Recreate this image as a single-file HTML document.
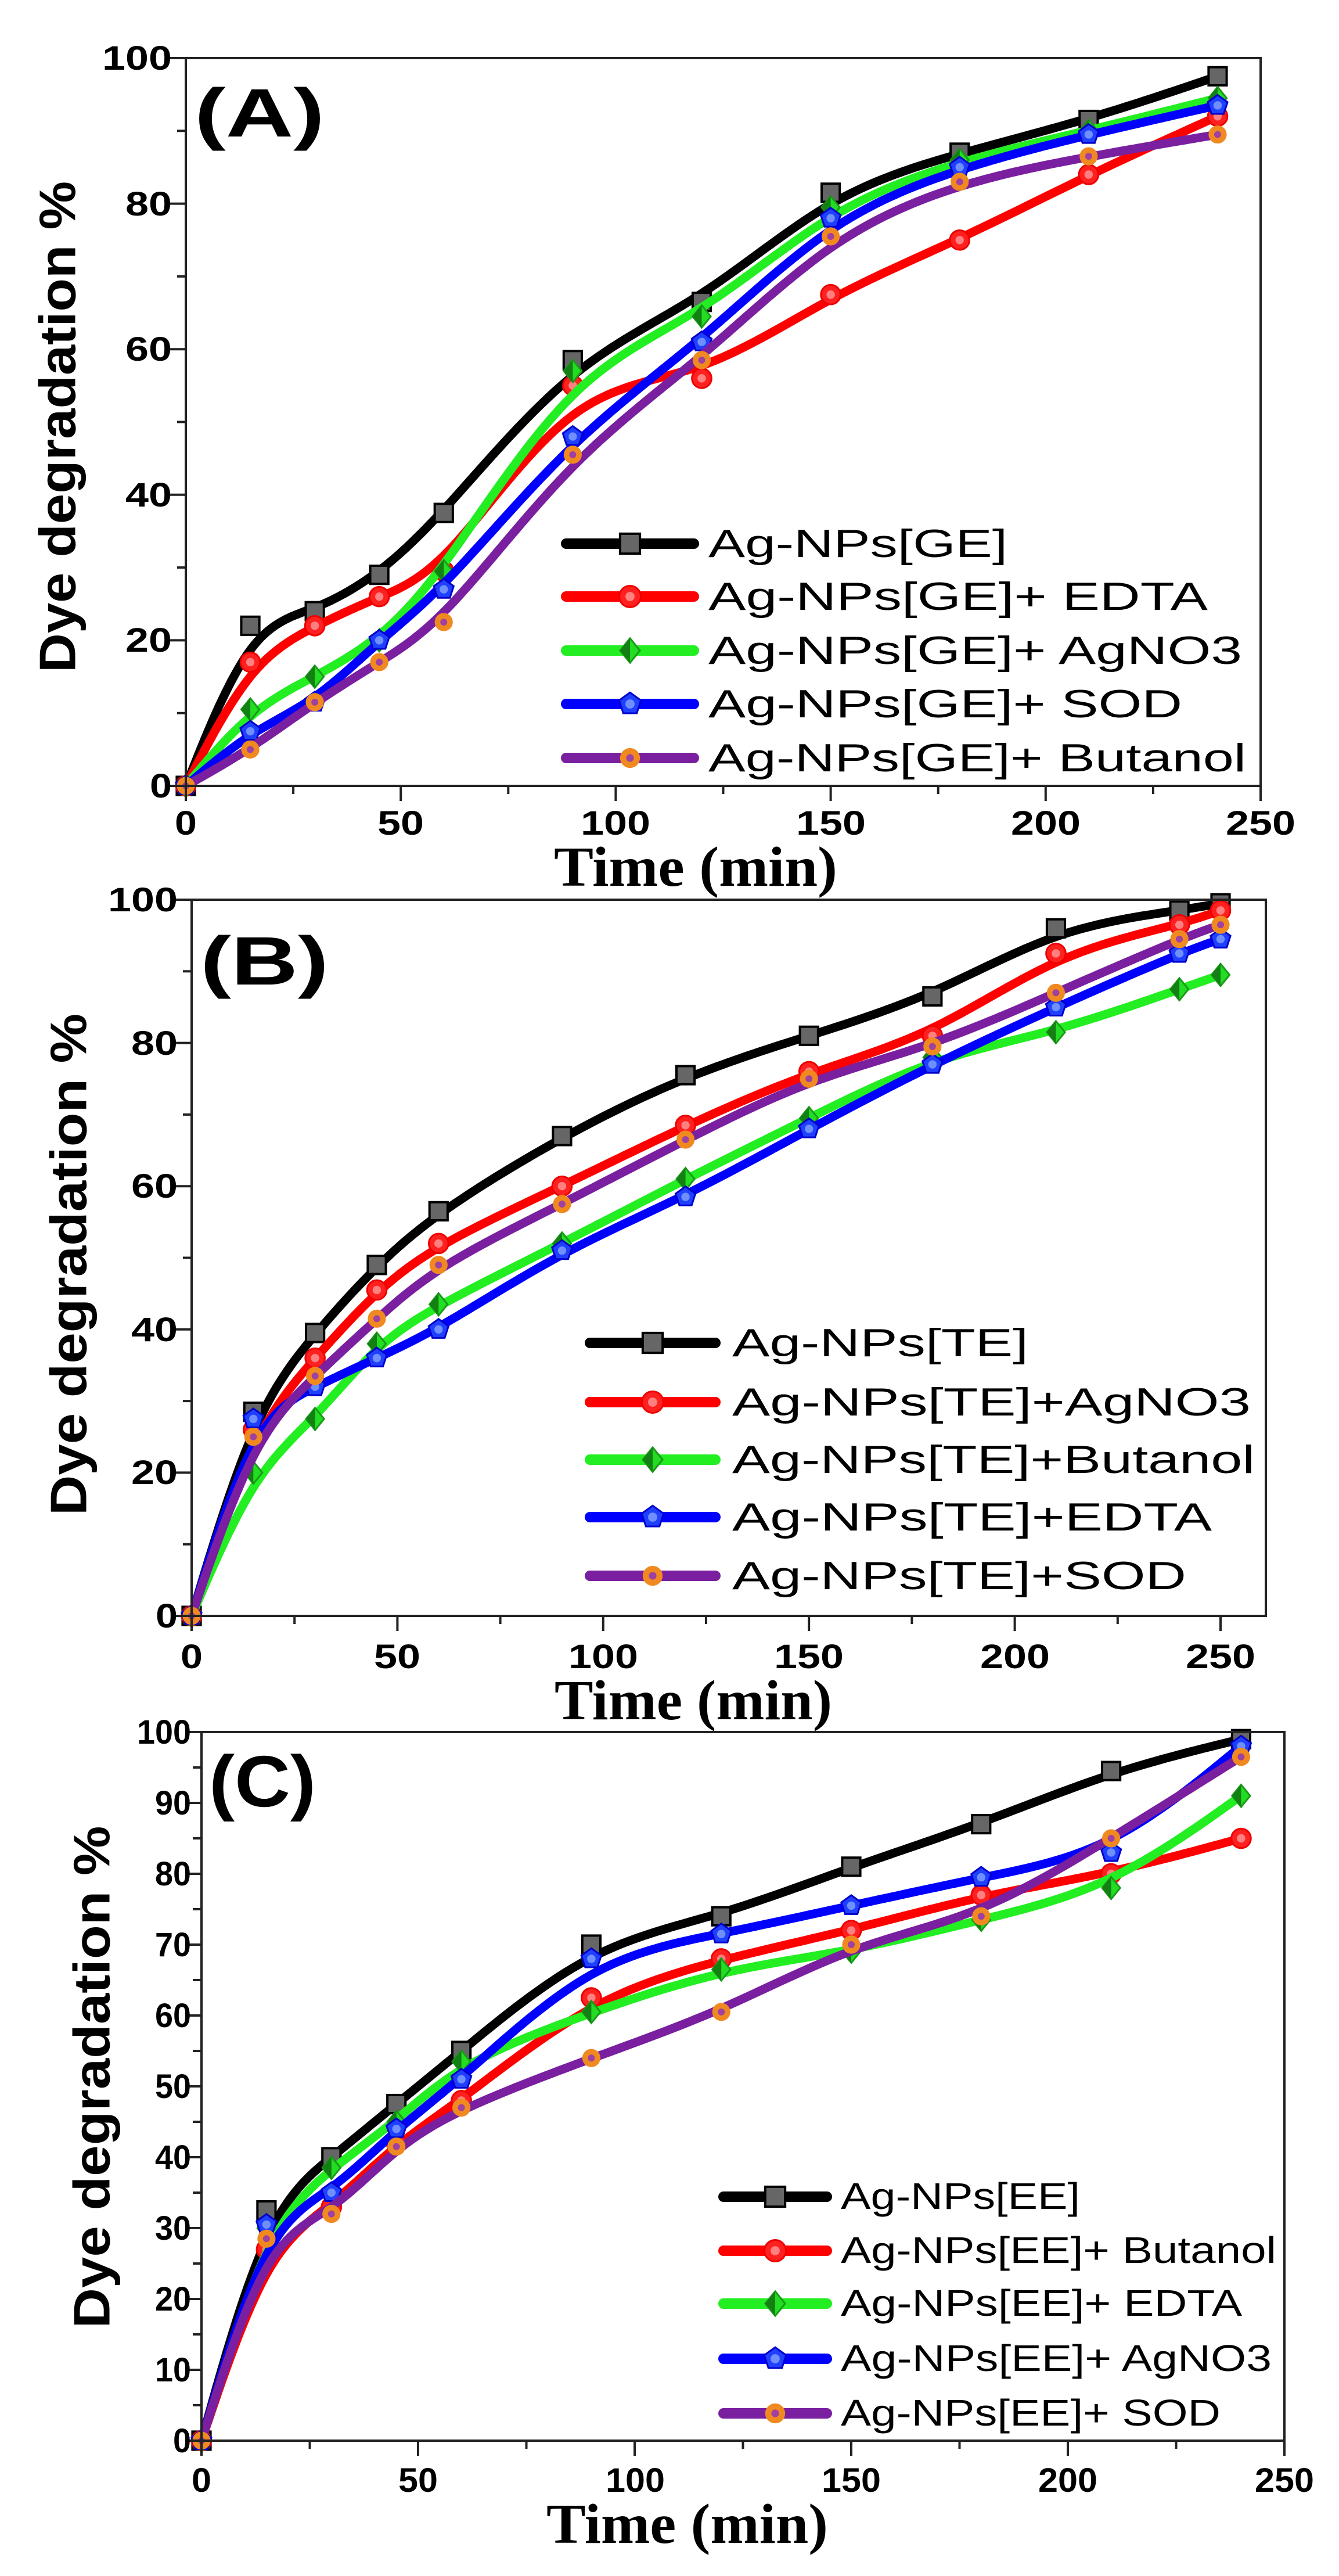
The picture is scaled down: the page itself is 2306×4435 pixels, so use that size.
<!DOCTYPE html>
<html><head><meta charset="utf-8"><style>
html,body{margin:0;padding:0;background:#fff}
svg{display:block}
.t{font-family:"Liberation Sans",Arial,sans-serif;font-weight:bold;fill:#000}
.l{font-family:"Liberation Sans",Arial,sans-serif;fill:#000}
.s{font-family:"Liberation Serif","Times New Roman",serif;font-weight:bold;fill:#000}
</style></head><body>
<svg id="svg" width="2306" height="4435" viewBox="0 0 2306 4435" xmlns="http://www.w3.org/2000/svg">
<rect width="2306" height="4435" fill="#fff"/>
<g id="plots"></g>
<!-- Panel A text -->
<text class="t" x="335" y="235" font-size="118" textLength="224" lengthAdjust="spacingAndGlyphs">(A)</text>
<g class="t" font-size="58" text-anchor="middle">
<text x="320" y="1437" textLength="38" lengthAdjust="spacingAndGlyphs">0</text>
<text x="690" y="1437" textLength="80" lengthAdjust="spacingAndGlyphs">50</text>
<text x="1060" y="1437" textLength="120" lengthAdjust="spacingAndGlyphs">100</text>
<text x="1431" y="1437" textLength="120" lengthAdjust="spacingAndGlyphs">150</text>
<text x="1801" y="1437" textLength="120" lengthAdjust="spacingAndGlyphs">200</text>
<text x="2171" y="1437" textLength="120" lengthAdjust="spacingAndGlyphs">250</text>
</g>
<g class="t" font-size="58" text-anchor="end">
<text x="296" y="1373" textLength="38" lengthAdjust="spacingAndGlyphs">0</text>
<text x="296" y="1122" textLength="80" lengthAdjust="spacingAndGlyphs">20</text>
<text x="296" y="872" textLength="80" lengthAdjust="spacingAndGlyphs">40</text>
<text x="296" y="621" textLength="80" lengthAdjust="spacingAndGlyphs">60</text>
<text x="296" y="371" textLength="80" lengthAdjust="spacingAndGlyphs">80</text>
<text x="296" y="120" textLength="120" lengthAdjust="spacingAndGlyphs">100</text>
</g>
<text class="t" font-size="88" text-anchor="middle" dominant-baseline="central" transform="translate(99,735) rotate(-90)" textLength="846" lengthAdjust="spacingAndGlyphs">Dye degradation %</text>
<text class="s" font-size="98" x="954" y="1525" textLength="488" lengthAdjust="spacingAndGlyphs">Time (min)</text>
<g class="l" font-size="68">
<text x="1220" y="959" textLength="515" lengthAdjust="spacingAndGlyphs">Ag-NPs[GE]</text>
<text x="1220" y="1050" textLength="860" lengthAdjust="spacingAndGlyphs">Ag-NPs[GE]+ EDTA</text>
<text x="1220" y="1143" textLength="919" lengthAdjust="spacingAndGlyphs">Ag-NPs[GE]+ AgNO3</text>
<text x="1220" y="1235" textLength="816" lengthAdjust="spacingAndGlyphs">Ag-NPs[GE]+ SOD</text>
<text x="1220" y="1328" textLength="926" lengthAdjust="spacingAndGlyphs">Ag-NPs[GE]+ Butanol</text>
</g>
<!-- Panel B text -->
<text class="t" x="345" y="1695" font-size="118" textLength="221" lengthAdjust="spacingAndGlyphs">(B)</text>
<g class="t" font-size="58" text-anchor="middle">
<text x="330" y="2872" textLength="38" lengthAdjust="spacingAndGlyphs">0</text>
<text x="684" y="2872" textLength="80" lengthAdjust="spacingAndGlyphs">50</text>
<text x="1039" y="2872" textLength="120" lengthAdjust="spacingAndGlyphs">100</text>
<text x="1393" y="2872" textLength="120" lengthAdjust="spacingAndGlyphs">150</text>
<text x="1748" y="2872" textLength="120" lengthAdjust="spacingAndGlyphs">200</text>
<text x="2102" y="2872" textLength="120" lengthAdjust="spacingAndGlyphs">250</text>
</g>
<g class="t" font-size="58" text-anchor="end">
<text x="306" y="2802" textLength="38" lengthAdjust="spacingAndGlyphs">0</text>
<text x="306" y="2555" textLength="80" lengthAdjust="spacingAndGlyphs">20</text>
<text x="306" y="2309" textLength="80" lengthAdjust="spacingAndGlyphs">40</text>
<text x="306" y="2062" textLength="80" lengthAdjust="spacingAndGlyphs">60</text>
<text x="306" y="1816" textLength="80" lengthAdjust="spacingAndGlyphs">80</text>
<text x="306" y="1569" textLength="120" lengthAdjust="spacingAndGlyphs">100</text>
</g>
<text class="t" font-size="88" text-anchor="middle" dominant-baseline="central" transform="translate(118,2177) rotate(-90)" textLength="864" lengthAdjust="spacingAndGlyphs">Dye degradation %</text>
<text class="s" font-size="98" x="955" y="2960" textLength="478" lengthAdjust="spacingAndGlyphs">Time (min)</text>
<g class="l" font-size="68">
<text x="1261" y="2335" textLength="510" lengthAdjust="spacingAndGlyphs">Ag-NPs[TE]</text>
<text x="1261" y="2437" textLength="893" lengthAdjust="spacingAndGlyphs">Ag-NPs[TE]+AgNO3</text>
<text x="1261" y="2536" textLength="900" lengthAdjust="spacingAndGlyphs">Ag-NPs[TE]+Butanol</text>
<text x="1261" y="2635" textLength="826" lengthAdjust="spacingAndGlyphs">Ag-NPs[TE]+EDTA</text>
<text x="1261" y="2736" textLength="782" lengthAdjust="spacingAndGlyphs">Ag-NPs[TE]+SOD</text>
</g>
<!-- Panel C text -->
<text class="t" x="360" y="3110" font-size="125" textLength="184" lengthAdjust="spacingAndGlyphs">(C)</text>
<g class="t" font-size="58" text-anchor="middle">
<text x="347" y="4290" textLength="34" lengthAdjust="spacingAndGlyphs">0</text>
<text x="720" y="4290" textLength="68" lengthAdjust="spacingAndGlyphs">50</text>
<text x="1094" y="4290" textLength="102" lengthAdjust="spacingAndGlyphs">100</text>
<text x="1466" y="4290" textLength="102" lengthAdjust="spacingAndGlyphs">150</text>
<text x="1839" y="4290" textLength="102" lengthAdjust="spacingAndGlyphs">200</text>
<text x="2212" y="4290" textLength="102" lengthAdjust="spacingAndGlyphs">250</text>
</g>
<g class="t" font-size="58" text-anchor="end">
<text x="329" y="4222" textLength="31" lengthAdjust="spacingAndGlyphs">0</text>
<text x="329" y="4100" textLength="62" lengthAdjust="spacingAndGlyphs">10</text>
<text x="329" y="3978" textLength="62" lengthAdjust="spacingAndGlyphs">20</text>
<text x="329" y="3856" textLength="62" lengthAdjust="spacingAndGlyphs">30</text>
<text x="329" y="3734" textLength="62" lengthAdjust="spacingAndGlyphs">40</text>
<text x="329" y="3612" textLength="62" lengthAdjust="spacingAndGlyphs">50</text>
<text x="329" y="3490" textLength="62" lengthAdjust="spacingAndGlyphs">60</text>
<text x="329" y="3368" textLength="62" lengthAdjust="spacingAndGlyphs">70</text>
<text x="329" y="3246" textLength="62" lengthAdjust="spacingAndGlyphs">80</text>
<text x="329" y="3124" textLength="62" lengthAdjust="spacingAndGlyphs">90</text>
<text x="329" y="3002" textLength="93" lengthAdjust="spacingAndGlyphs">100</text>
</g>
<text class="t" font-size="88" text-anchor="middle" dominant-baseline="central" transform="translate(158,3576) rotate(-90)" textLength="865" lengthAdjust="spacingAndGlyphs">Dye degradation %</text>
<text class="s" font-size="98" x="941" y="4378" textLength="485" lengthAdjust="spacingAndGlyphs">Time (min)</text>
<g class="l" font-size="64">
<text x="1448" y="3803" textLength="412" lengthAdjust="spacingAndGlyphs">Ag-NPs[EE]</text>
<text x="1448" y="3896" textLength="750" lengthAdjust="spacingAndGlyphs">Ag-NPs[EE]+ Butanol</text>
<text x="1448" y="3987" textLength="691" lengthAdjust="spacingAndGlyphs">Ag-NPs[EE]+ EDTA</text>
<text x="1448" y="4082" textLength="742" lengthAdjust="spacingAndGlyphs">Ag-NPs[EE]+ AgNO3</text>
<text x="1448" y="4176" textLength="654" lengthAdjust="spacingAndGlyphs">Ag-NPs[EE]+ SOD</text>
</g>
</svg>
<script>
(function(){
var NS="http://www.w3.org/2000/svg",G=document.getElementById("plots");
function el(n,a,p){var e=document.createElementNS(NS,n);for(var k in a)e.setAttribute(k,a[k]);(p||G).appendChild(e);return e;}
var COL={k:"#000",r:"#ff0000",g:"#22ee22",b:"#0000ff",p:"#7a1fa0"};
function marker(type,x,y,s,g){
 s=(s||1)*1.2;
 if(type=="k"){el("rect",{x:x-13*s,y:y-13*s,width:26*s,height:26*s,fill:"#666",stroke:"#000","stroke-width":4},g);}
 else if(type=="r"){el("circle",{cx:x,cy:y,r:14*s,fill:"#ff2020",stroke:"#e00","stroke-width":3},g);el("circle",{cx:x,cy:y,r:6*s,fill:"#ff8080"},g);}
 else if(type=="g"){el("path",{d:"M"+x+","+(y-16*s)+"L"+(x+13*s)+","+y+"L"+x+","+(y+16*s)+"L"+(x-13*s)+","+y+"Z",fill:"#22dd22",stroke:"#1a9a1a","stroke-width":3},g);el("path",{d:"M"+x+","+(y-16*s)+"L"+x+","+(y+16*s)+"L"+(x-13*s)+","+y+"Z",fill:"#138013"},g);}
 else if(type=="b"){var d="";for(var i=0;i<5;i++){var a=-Math.PI/2+i*2*Math.PI/5;d+=(i?"L":"M")+(x+15*s*Math.cos(a))+","+(y+15*s*Math.sin(a));}el("path",{d:d+"Z",fill:"#2040ff",stroke:"#0000cc","stroke-width":3},g);el("circle",{cx:x,cy:y,r:6*s,fill:"#6f8fff"},g);}
 else if(type=="p"){el("circle",{cx:x,cy:y,r:13*s,fill:"#f08a20"},g);el("circle",{cx:x,cy:y,r:5*s,fill:"#a040a0"},g);}
}
// clamped uniform cubic B-spline (Origin-style "B-Spline" connect)
function curve(p){
 var c=[p[0],p[0]].concat(p).concat([p[p.length-1],p[p.length-1]]);
 var out=[];
 for(var i=0;i<c.length-3;i++){
  for(var k=0;k<=20;k++){var t=k/20,t2=t*t,t3=t2*t;
   var b0=(1-t)*(1-t)*(1-t)/6,b1=(3*t3-6*t2+4)/6,b2=(-3*t3+3*t2+3*t+1)/6,b3=t3/6;
   out.push([b0*c[i][0]+b1*c[i+1][0]+b2*c[i+2][0]+b3*c[i+3][0], b0*c[i][1]+b1*c[i+1][1]+b2*c[i+2][1]+b3*c[i+3][1]]);}
 }
 return "M"+out.map(function(q){return q[0].toFixed(1)+","+q[1].toFixed(1)}).join("L");
}
function panel(P){
 var X=function(t){return P.x0+t*P.sx},Y=function(v){return P.y0-v*P.sy};
 P.series.forEach(function(S){
  var pts=P.t.map(function(t,i){return [X(t),Y(S.v[i])]});
  el("path",{d:curve(pts),fill:"none",stroke:COL[S.c],"stroke-width":15,"stroke-linejoin":"round","stroke-linecap":"round"});
  pts.forEach(function(p){marker(S.c,p[0],p[1])});
 });
 el("rect",{x:P.x0,y:P.top,width:P.right-P.x0,height:P.y0-P.top,fill:"none",stroke:"#222","stroke-width":4});
 for(var t=0;t<=P.xmax+0.01;t+=25){var mj=(t%50==0);el("line",{x1:X(t),x2:X(t),y1:P.y0,y2:P.y0+(mj?26:14),stroke:"#222","stroke-width":4});}
 for(var v=0;v<=100.01;v+=P.ym){var mj2=(Math.round(v)%P.yM==0);el("line",{x1:P.x0,x2:P.x0-(mj2?28:15),y1:Y(v),y2:Y(v),stroke:"#222","stroke-width":4});}
 P.leg.rows.forEach(function(r,i){
  el("line",{x1:P.leg.x1,x2:P.leg.x2,y1:r,y2:r,stroke:COL[P.series[i].c],"stroke-width":18,"stroke-linecap":"round"});
  marker(P.series[i].c,(P.leg.x1+P.leg.x2)/2,r,1.1);
 });
}
panel({x0:320,sx:7.404,y0:1353,sy:12.53,top:100,right:2171,xmax:250,ym:10,yM:20,
 t:[0,15,30,45,60,90,120,150,180,210,240],
 series:[{c:"k",v:[0,22,24,29,37.5,58.5,66.5,81.5,87,91.5,97.5]},
 {c:"r",v:[0,17,22,26,29.5,55,56,67.5,75,84,92]},
 {c:"g",v:[0,10.5,15,20,29.5,57,64.5,79.5,86,90,94.5]},
 {c:"b",v:[0,7.5,11.5,20,27,48,61,78,85,89.5,93.5]},
 {c:"p",v:[0,5,11.5,17,22.5,45.5,58.5,75.5,83,86.5,89.5]}],
 leg:{x1:975,x2:1195,rows:[936,1027,1120,1212,1305]}});
panel({x0:330,sx:7.088,y0:2782,sy:12.33,top:1549,right:2180,xmax:260,ym:10,yM:20,
 t:[0,15,30,45,60,90,120,150,180,210,240,250],
 series:[{c:"k",v:[0,28.5,39.5,49,56.5,67,75.5,81,86.5,96,98.5,99.5]},
 {c:"r",v:[0,26,36,45.5,52,60,68.5,76,81,92.5,96.5,98.5]},
 {c:"g",v:[0,20,27.5,38,43.5,52,61,69.5,78,81.5,87.5,89.5]},
 {c:"b",v:[0,27.5,32,36,40,51,58.5,68,77,85,92.5,94.5]},
 {c:"p",v:[0,25,33.5,41.5,49,57.5,66.5,75,79.5,87,94.5,96.5]}],
 leg:{x1:1016,x2:1232,rows:[2312,2414,2513,2612,2713]}});
panel({x0:347,sx:7.46,y0:4202,sy:12.2,top:2982,right:2212,xmax:250,ym:5,yM:10,
 t:[0,15,30,45,60,90,120,150,180,210,240],
 series:[{c:"k",v:[0,32.5,40,47.5,55,70,74,81,87,94.5,99]},
 {c:"r",v:[0,27,33,42,48,62.5,68,72,77,80,85]},
 {c:"g",v:[0,30,38.5,45,53.5,60.5,66.5,69,73.5,78,91]},
 {c:"b",v:[0,30.5,35,44,51,68,71.5,75.5,79.5,83,98]},
 {c:"p",v:[0,28.5,32,41.5,47,54,60.5,70,74,85,96.5]}],
 leg:{x1:1246,x2:1424,rows:[3782,3875,3966,4061,4155]}});
})();
</script>
</body></html>
